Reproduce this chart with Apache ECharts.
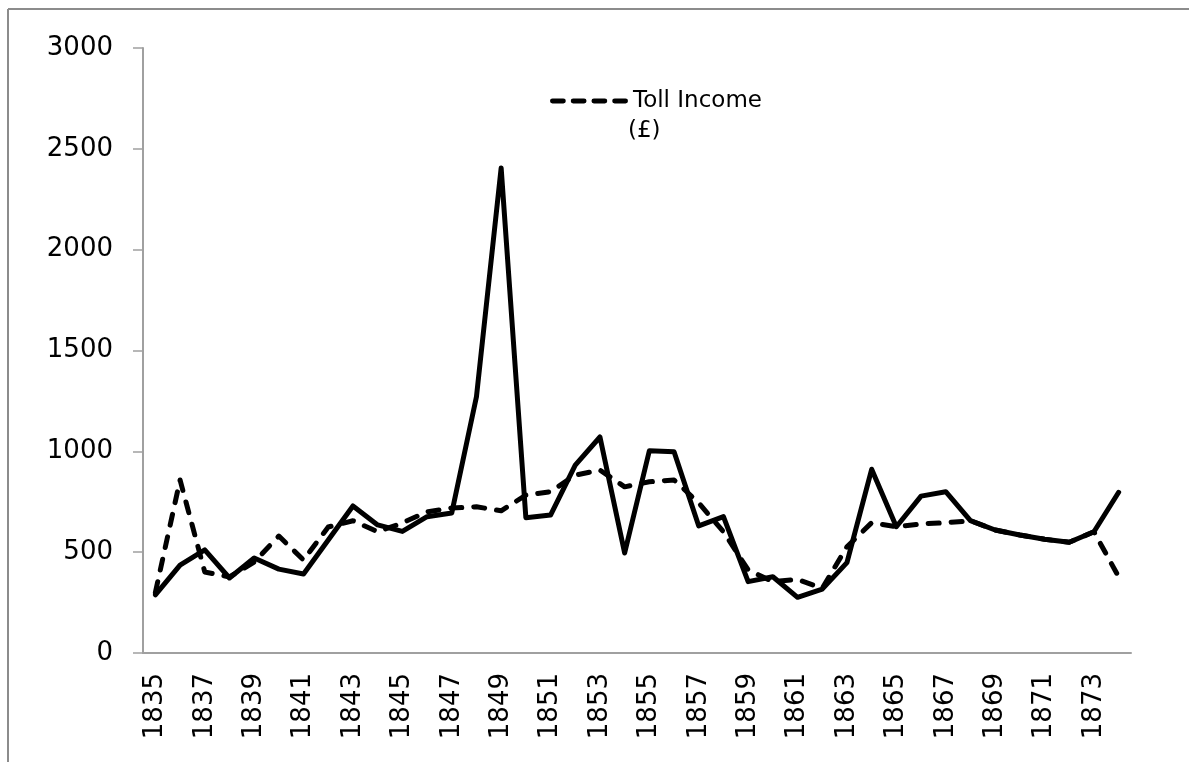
<!DOCTYPE html>
<html>
<head>
<meta charset="utf-8">
<script src="https://cdn.jsdelivr.net/npm/echarts@6/dist/echarts.min.js"></script>
<style>
html,body{margin:0;padding:0;background:#fff;}
#chart{width:1189px;height:762px;}
</style>
</head>
<body>
<div id="chart"></div>
<script>
const years = ['1835','1836','1837','1838','1839','1840','1841','1842','1843','1844','1845','1846','1847','1848','1849','1850','1851','1852','1853','1854','1855','1856','1857','1858','1859','1860','1861','1862','1863','1864','1865','1866','1867','1868','1869','1870','1871','1872','1873','1874'];
const solidValues = [288,436,511,372,471,416,392,560,729,635,603,676,694,1271,2405,671,684,932,1071,496,1003,998,630,676,354,378,276,317,448,911,626,778,800,656,610,585,564,549,601,797];
const tollIncome = [300,858,402,377,451,580,461,625,656,601,645,700,719,725,705,783,800,882,907,824,849,858,744,601,412,354,365,321,527,646,626,640,646,656,610,585,564,549,601,378];
const yTicks = {min:0, max:3000, interval:500};
const tollName = 'Toll Income';
const tollUnit = '(£)';

const chart = echarts.init(document.getElementById('chart'));
const font = 'DejaVu Sans';
const dashIcon = 'path://M2,0h11a2,2 0 0 1 0,5h-11a2,2 0 0 1 0,-5z M23,0h11a2,2 0 0 1 0,5h-11a2,2 0 0 1 0,-5z M44,0h11a2,2 0 0 1 0,5h-11a2,2 0 0 1 0,-5z M65,0h11a2,2 0 0 1 0,5h-11a2,2 0 0 1 0,-5z';
chart.setOption({
  animation:false,
  backgroundColor:'#fff',
  grid:{left:143,right:58,top:48,bottom:109,containLabel:false},
  legend:{
    data:[{name:tollName,icon:dashIcon}],
    left:545, top:82,
    itemWidth:78, itemHeight:5,
    itemStyle:{color:'#000',borderWidth:0},
    lineStyle:{width:0},
    textStyle:{fontFamily:font,fontSize:23,color:'#000',lineHeight:28}
  },
  xAxis:{
    type:'category',
    data:years,
    boundaryGap:true,
    axisLine:{lineStyle:{color:'#a0a0a0',width:2}},
    axisTick:{interval:0,length:11,lineStyle:{color:'#a0a0a0',width:1.5}},
    axisLabel:{interval:1,rotate:90,margin:20,fontFamily:font,fontSize:26,color:'#000'},
    splitLine:{show:false}
  },
  yAxis:{
    type:'value',
    min:yTicks.min,max:yTicks.max,interval:yTicks.interval,
    axisLine:{show:true,lineStyle:{color:'#a0a0a0',width:2}},
    axisTick:{show:true,length:10,lineStyle:{color:'#a0a0a0',width:1.5}},
    axisLabel:{margin:30,fontFamily:font,fontSize:26,color:'#000',formatter:v=>String(v)},
    splitLine:{show:false}
  },
  series:[
    {
      name:'Series 1',type:'line',data:solidValues,showSymbol:false,symbol:'none',
      lineStyle:{color:'#000',width:5,join:'round',cap:'round'},
      itemStyle:{color:'#000'}
    },
    {
      name:tollName,type:'line',data:tollIncome,showSymbol:false,symbol:'none',
      lineStyle:{color:'#000',width:5,type:[11,12],join:'round',cap:'round'},
      itemStyle:{color:'#000'}
    }
  ],
  graphic:[
    {type:'line',shape:{x1:8,y1:9,x2:1189,y2:9},style:{stroke:'#8c8c8c',lineWidth:2},silent:true},
    {type:'line',shape:{x1:8,y1:9,x2:8,y2:762},style:{stroke:'#8c8c8c',lineWidth:2},silent:true},
    {type:'text',left:628,top:120,style:{text:tollUnit,fontFamily:font,fontSize:23,fill:'#000'},silent:true}
  ]
});
</script>
</body>
</html>
